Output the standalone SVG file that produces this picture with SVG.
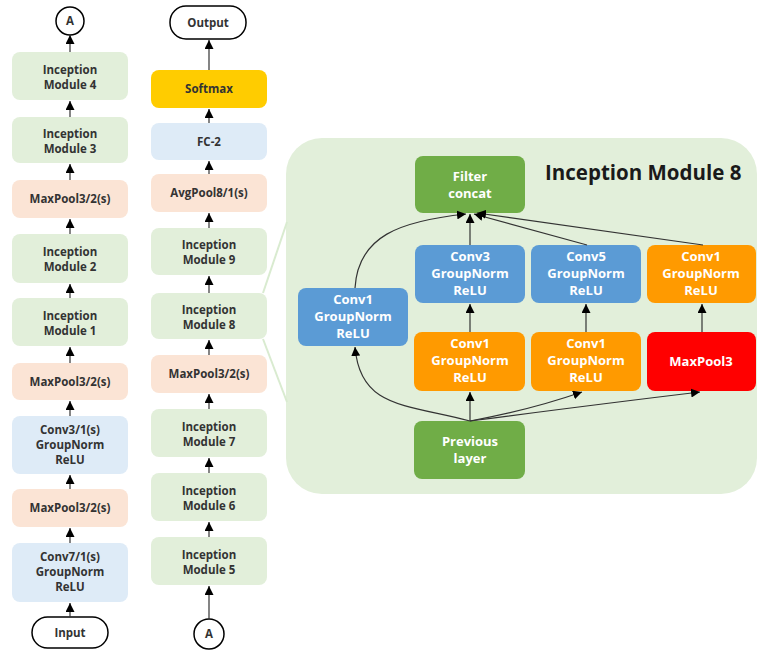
<svg xmlns="http://www.w3.org/2000/svg" width="757" height="652" viewBox="0 0 757 652">
  <style>
    .lbl { font-family: "Open Sans", "Noto Sans", "Liberation Sans", sans-serif; font-weight: bold; font-size: 11.5px; fill: #333333; text-anchor: middle; }
    .in { font-family: "Open Sans", "Noto Sans", "Liberation Sans", sans-serif; font-weight: bold; font-size: 13px; fill: #ffffff; text-anchor: middle; }
    .title { font-family: "Open Sans", "Noto Sans", "Liberation Sans", sans-serif; font-weight: bold; font-size: 20.5px; fill: #1a1a1a; }
    .inc { fill: #E2EFDA; }
    .pool { fill: #FBE4D5; }
    .conv { fill: #DEEBF7; }
    .soft { fill: #FFCC00; }
    .term { fill: #ffffff; stroke: #000000; stroke-width: 1.5; }
    .blue { fill: #5B9BD5; }
    .orange { fill: #FF9A00; }
    .red { fill: #FF0000; }
    .green { fill: #70AD47; }
    .flow { stroke: #333333; stroke-width: 1.2; fill: none; marker-end: url(#ah); }
    .zoom { stroke: #D9EBD0; stroke-width: 2; fill: none; }
  </style>
  <defs>
    <marker id="ah" viewBox="0 0 10 10" refX="10" refY="5" markerWidth="9" markerHeight="9" markerUnits="userSpaceOnUse" orient="auto">
      <path d="M0,0 L10,5 L0,10 z" fill="#000000"/>
    </marker>
  </defs>

  <!-- expanded view of Inception Module 8 -->
  <g id="panel">
    <rect x="286" y="138" width="471" height="356" rx="36" fill="#E2EFDA"/>
    <text class="title" x="545" y="180">Inception Module 8</text>
  </g>
  <g id="zoom-lines">
    <line class="zoom" x1="263" y1="293" x2="287" y2="222"/>
    <line class="zoom" x1="263" y1="339" x2="287" y2="402"/>
  </g>

  <!-- left column -->
  <g id="a-top"><circle class="term" cx="70" cy="21" r="14"/><text class="lbl" x="70" y="25" fill="#000">A</text></g>
  <g id="im4"><rect class="inc" x="12" y="52" width="116" height="48" rx="8"/><text class="lbl" x="70" y="74">Inception</text><text class="lbl" x="70" y="89">Module 4</text></g>
  <g id="im3"><rect class="inc" x="12" y="117" width="116" height="46" rx="8"/><text class="lbl" x="70" y="138">Inception</text><text class="lbl" x="70" y="153">Module 3</text></g>
  <g id="mp-c"><rect class="pool" x="12" y="180" width="116" height="38" rx="8"/><text class="lbl" x="70" y="203">MaxPool3/2(s)</text></g>
  <g id="im2"><rect class="inc" x="12" y="234" width="116" height="49" rx="8"/><text class="lbl" x="70" y="256">Inception</text><text class="lbl" x="70" y="271">Module 2</text></g>
  <g id="im1"><rect class="inc" x="12" y="298" width="116" height="48" rx="8"/><text class="lbl" x="70" y="320">Inception</text><text class="lbl" x="70" y="335">Module 1</text></g>
  <g id="mp-b"><rect class="pool" x="12" y="363" width="116" height="37" rx="8"/><text class="lbl" x="70" y="386">MaxPool3/2(s)</text></g>
  <g id="conv3"><rect class="conv" x="12" y="416" width="116" height="58" rx="8"/><text class="lbl" x="70" y="434">Conv3/1(s)</text><text class="lbl" x="70" y="449">GroupNorm</text><text class="lbl" x="70" y="464">ReLU</text></g>
  <g id="mp-a"><rect class="pool" x="12" y="489" width="116" height="38" rx="8"/><text class="lbl" x="70" y="512">MaxPool3/2(s)</text></g>
  <g id="conv7"><rect class="conv" x="12" y="543" width="116" height="59" rx="8"/><text class="lbl" x="70" y="561">Conv7/1(s)</text><text class="lbl" x="70" y="576">GroupNorm</text><text class="lbl" x="70" y="591">ReLU</text></g>
  <g id="input"><rect class="term" x="32" y="617" width="76" height="31" rx="15.5"/><text class="lbl" x="70" y="637" fill="#000">Input</text></g>

  <!-- middle column -->
  <g id="output"><rect class="term" x="170" y="6" width="76" height="33" rx="16"/><text class="lbl" x="208" y="27" fill="#000">Output</text></g>
  <g id="softmax"><rect class="soft" x="151" y="70" width="116" height="38" rx="8"/><text class="lbl" x="209" y="93" fill="#222">Softmax</text></g>
  <g id="fc2"><rect class="conv" x="151" y="123" width="116" height="37" rx="8"/><text class="lbl" x="209" y="146">FC-2</text></g>
  <g id="avgpool"><rect class="pool" x="151" y="174" width="116" height="38" rx="8"/><text class="lbl" x="209" y="197">AvgPool8/1(s)</text></g>
  <g id="im9"><rect class="inc" x="151" y="228" width="116" height="47" rx="8"/><text class="lbl" x="209" y="249">Inception</text><text class="lbl" x="209" y="264">Module 9</text></g>
  <g id="im8"><rect class="inc" x="151" y="293" width="116" height="46" rx="8"/><text class="lbl" x="209" y="314">Inception</text><text class="lbl" x="209" y="329">Module 8</text></g>
  <g id="mp-d"><rect class="pool" x="151" y="355" width="116" height="38" rx="8"/><text class="lbl" x="209" y="378">MaxPool3/2(s)</text></g>
  <g id="im7"><rect class="inc" x="151" y="409" width="116" height="48" rx="8"/><text class="lbl" x="209" y="431">Inception</text><text class="lbl" x="209" y="446">Module 7</text></g>
  <g id="im6"><rect class="inc" x="151" y="473" width="116" height="48" rx="8"/><text class="lbl" x="209" y="495">Inception</text><text class="lbl" x="209" y="510">Module 6</text></g>
  <g id="im5"><rect class="inc" x="151" y="537" width="116" height="48" rx="8"/><text class="lbl" x="209" y="559">Inception</text><text class="lbl" x="209" y="574">Module 5</text></g>
  <g id="a-bottom"><circle class="term" cx="209" cy="634" r="15"/><text class="lbl" x="209" y="638" fill="#000">A</text></g>

  <!-- inside Inception Module 8 -->
  <g id="filter-concat"><rect class="green" x="415" y="156" width="110" height="57" rx="8"/><text class="in" x="470" y="181">Filter</text><text class="in" x="470" y="198">concat</text></g>
  <g id="b-conv3"><rect class="blue" x="415" y="245" width="110" height="58" rx="8"/><text class="in" x="470" y="261">Conv3</text><text class="in" x="470" y="278">GroupNorm</text><text class="in" x="470" y="295">ReLU</text></g>
  <g id="b-conv5"><rect class="blue" x="531" y="245" width="110" height="58" rx="8"/><text class="in" x="586" y="261">Conv5</text><text class="in" x="586" y="278">GroupNorm</text><text class="in" x="586" y="295">ReLU</text></g>
  <g id="b-conv1-pool"><rect class="orange" x="647" y="245" width="109" height="58" rx="8"/><text class="in" x="701" y="261">Conv1</text><text class="in" x="701" y="278">GroupNorm</text><text class="in" x="701" y="295">ReLU</text></g>
  <g id="b-conv1"><rect class="blue" x="298" y="288" width="110" height="58" rx="8"/><text class="in" x="353" y="304">Conv1</text><text class="in" x="353" y="321">GroupNorm</text><text class="in" x="353" y="338">ReLU</text></g>
  <g id="r-conv1-a"><rect class="orange" x="414" y="332" width="111" height="59" rx="8"/><text class="in" x="470" y="348">Conv1</text><text class="in" x="470" y="365">GroupNorm</text><text class="in" x="470" y="382">ReLU</text></g>
  <g id="r-conv1-b"><rect class="orange" x="531" y="332" width="110" height="59" rx="8"/><text class="in" x="586" y="348">Conv1</text><text class="in" x="586" y="365">GroupNorm</text><text class="in" x="586" y="382">ReLU</text></g>
  <g id="maxpool3"><rect class="red" x="647" y="332" width="109" height="59" rx="8"/><text class="in" x="701" y="366">MaxPool3</text></g>
  <g id="previous"><rect class="green" x="414" y="421" width="111" height="58" rx="8"/><text class="in" x="470" y="446">Previous</text><text class="in" x="470" y="463">layer</text></g>

  <g id="connectors">
    <!-- left column -->
    <line class="flow" x1="70" y1="52" x2="70" y2="35"/>
    <line class="flow" x1="70" y1="117" x2="70" y2="101"/>
    <line class="flow" x1="70" y1="180" x2="70" y2="164"/>
    <line class="flow" x1="70" y1="234" x2="70" y2="219"/>
    <line class="flow" x1="70" y1="298" x2="70" y2="284"/>
    <line class="flow" x1="70" y1="363" x2="70" y2="347"/>
    <line class="flow" x1="70" y1="416" x2="70" y2="401"/>
    <line class="flow" x1="70" y1="489" x2="70" y2="475"/>
    <line class="flow" x1="70" y1="543" x2="70" y2="528"/>
    <line class="flow" x1="70" y1="617" x2="70" y2="603"/>
    <!-- middle column -->
    <line class="flow" x1="209" y1="70" x2="209" y2="40"/>
    <line class="flow" x1="209" y1="123" x2="209" y2="109"/>
    <line class="flow" x1="209" y1="174" x2="209" y2="161"/>
    <line class="flow" x1="209" y1="228" x2="209" y2="213"/>
    <line class="flow" x1="209" y1="293" x2="209" y2="276"/>
    <line class="flow" x1="209" y1="355" x2="209" y2="340"/>
    <line class="flow" x1="209" y1="409" x2="209" y2="394"/>
    <line class="flow" x1="209" y1="473" x2="209" y2="458"/>
    <line class="flow" x1="209" y1="537" x2="209" y2="522"/>
    <line class="flow" x1="209" y1="619" x2="209" y2="586"/>
    <!-- inception module branches -->
    <line class="flow" x1="470" y1="421" x2="470" y2="392"/>
    <path class="flow" d="M470,421 C405,404 360,408 355,347"/>
    <path class="flow" d="M470,421 Q530,410 582,392"/>
    <path class="flow" d="M470,421 Q600,404 700,392"/>
    <line class="flow" x1="470" y1="332" x2="470" y2="304"/>
    <line class="flow" x1="586" y1="332" x2="586" y2="304"/>
    <line class="flow" x1="702" y1="332" x2="702" y2="304"/>
    <line class="flow" x1="470" y1="245" x2="470" y2="214"/>
    <line class="flow" x1="587" y1="245" x2="474" y2="214"/>
    <line class="flow" x1="703" y1="245" x2="477" y2="213"/>
    <path class="flow" d="M355,288 C358,236 400,221 466,214"/>
  </g>
</svg>
